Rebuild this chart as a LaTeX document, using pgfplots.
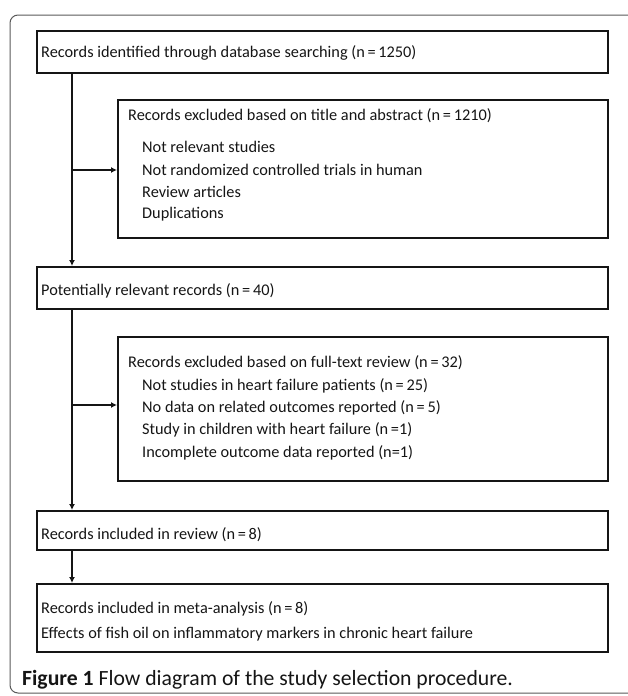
\documentclass[border=0pt]{standalone}
\usepackage{pgfplots}
\pgfplotsset{compat=1.18}
\usepackage{fontspec}
\setmainfont{Carlito}
\usetikzlibrary{arrows.meta}
\definecolor{ink}{HTML}{151515}
\begin{document}
\begin{tikzpicture}
\begin{axis}[
  width=628pt, height=696pt, scale only axis,
  xmin=0, xmax=628, ymin=0, ymax=696, y dir=reverse,
  hide axis, clip=true,
]
% outer frame
\draw[gray!70!black, line width=1pt, rounded corners=8pt] (axis cs:10,15) rectangle (axis cs:650,693);
% boxes
\draw[ink, line width=2.3pt] (axis cs:37,31) rectangle (axis cs:608,73);
\draw[ink, line width=2.3pt] (axis cs:118,100) rectangle (axis cs:608,238);
\draw[ink, line width=2.3pt] (axis cs:37,267) rectangle (axis cs:608,309);
\draw[ink, line width=2.3pt] (axis cs:118,337) rectangle (axis cs:608,481);
\draw[ink, line width=2.3pt] (axis cs:37,511) rectangle (axis cs:608,550);
\draw[ink, line width=2.3pt] (axis cs:37,584) rectangle (axis cs:608,652);
% connectors
\draw[ink, line width=2.3pt, -{Latex[length=6pt,width=6pt]}] (axis cs:72,73) -- (axis cs:72,266);
\draw[ink, line width=2.3pt, -{Latex[length=6pt,width=6pt]}] (axis cs:72,170) -- (axis cs:117,170);
\draw[ink, line width=2.3pt, -{Latex[length=6pt,width=6pt]}] (axis cs:72,309) -- (axis cs:72,510);
\draw[ink, line width=2.3pt, -{Latex[length=6pt,width=6pt]}] (axis cs:72,405) -- (axis cs:117,405);
\draw[ink, line width=2.3pt, -{Latex[length=6pt,width=6pt]}] (axis cs:72,550) -- (axis cs:72,583);
% texts
\tikzset{t/.style={anchor=base west, inner sep=0pt, text=ink, font=\fontsize{16.3}{19}\selectfont}}
\node[t] at (axis cs:41,57) {Records identified through database searching (n\,=\,1250)};
\node[t] at (axis cs:128,120) {Records excluded based on title and abstract (n\,=\,1210)};
\node[t] at (axis cs:142,152) {Not relevant studies};
\node[t] at (axis cs:142,175) {Not randomized controlled trials in human};
\node[t] at (axis cs:142,197) {Review articles};
\node[t] at (axis cs:142,218) {Duplications};
\node[t] at (axis cs:41,295) {Potentially relevant records (n\,=\,40)};
\node[t] at (axis cs:128,367) {Records excluded based on full-text review (n\,=\,32)};
\node[t] at (axis cs:142,390) {Not studies in heart failure patients (n\,=\,25)};
\node[t] at (axis cs:142,412) {No data on related outcomes reported (n\,=\,5)};
\node[t] at (axis cs:142,434) {Study in children with heart failure (n\,=1)};
\node[t] at (axis cs:142,457) {Incomplete outcome data reported (n=1)};
\node[t] at (axis cs:41,539) {Records included in review (n\,=\,8)};
\node[t] at (axis cs:41,613) {Records included in meta-analysis (n\,=\,8)};
\node[t] at (axis cs:41,638) {Effects of fish oil on inflammatory markers in chronic heart failure};
\node[anchor=base west, inner sep=0pt, text=ink, font=\fontsize{21.7}{25}\selectfont] at (axis cs:22,685) {\textbf{Figure 1} Flow diagram of the study selection procedure.};
\end{axis}
\pgfresetboundingbox
\path[use as bounding box] (current axis.south west) rectangle (current axis.north east);
\end{tikzpicture}
\end{document}
